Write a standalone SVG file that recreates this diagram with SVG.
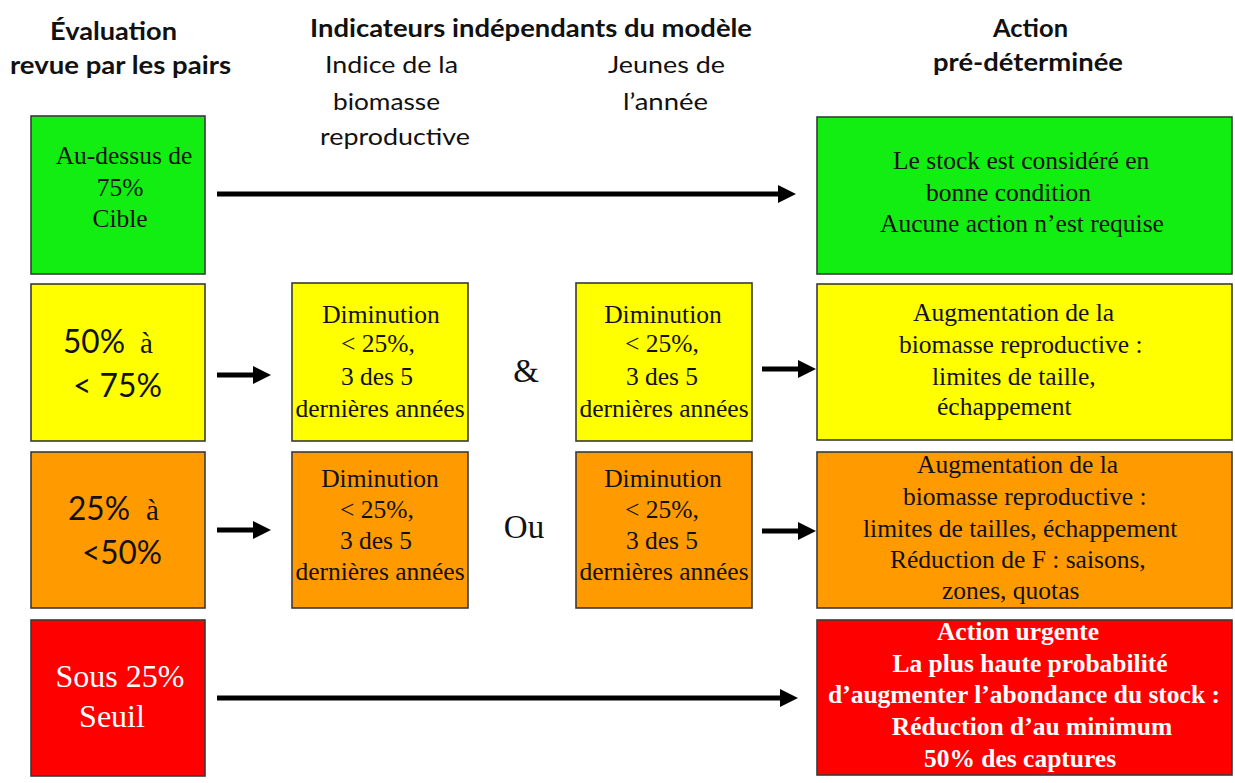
<svg xmlns="http://www.w3.org/2000/svg" width="1235" height="783" viewBox="0 0 1235 783">
  <style>
    .box { stroke: #3a3a3a; stroke-width: 1.6; }
    .green { fill: #12ee12; }
    .yellow { fill: #ffff00; }
    .orange { fill: #ff9a00; }
    .red { fill: #ff0000; }
    .hdr { font-family: Lato, "Open Sans", "Liberation Sans", sans-serif; font-size: 24px; fill: #111; }
    .hdr-b { font-weight: bold; }
    .serif { font-family: "Liberation Serif", "Times New Roman", serif; font-size: 25.5px; fill: #111; }
    .pct { font-family: Lato, "Open Sans", "Liberation Sans", sans-serif; font-size: 33px; fill: #111; }
    .big { font-size: 33px; }
    .agrave { font-size: 29px; }
    .large { font-size: 32px; }
    .white { fill: #fff; }
    .bold { font-weight: bold; }
    .mid { text-anchor: middle; }
    .conn { stroke: #000; stroke-width: 5; fill: none; }
  </style>
  <defs>
    <marker id="arrowhead" markerUnits="userSpaceOnUse" markerWidth="18" markerHeight="18" refX="0" refY="9" orient="auto">
      <path d="M0,0 L18,9 L0,18 Z" fill="#000"/>
    </marker>
  </defs>

  <rect width="1235" height="783" fill="#fff"/>

  <!-- column headers -->
  <g id="headers">
    <text class="hdr hdr-b mid" x="113.5" y="40" textLength="127" lengthAdjust="spacingAndGlyphs">Évaluation</text>
    <text class="hdr hdr-b mid" x="120.5" y="74" textLength="221" lengthAdjust="spacingAndGlyphs">revue par les pairs</text>
    <text class="hdr hdr-b" x="310" y="37" textLength="442" lengthAdjust="spacingAndGlyphs">Indicateurs indépendants du modèle</text>
    <text class="hdr" x="325" y="73" textLength="133" lengthAdjust="spacingAndGlyphs">Indice de la</text>
    <text class="hdr" x="333" y="110" textLength="107" lengthAdjust="spacingAndGlyphs">biomasse</text>
    <text class="hdr" x="320" y="145" textLength="150" lengthAdjust="spacingAndGlyphs">reproductive</text>
    <text class="hdr" x="608" y="73" textLength="117" lengthAdjust="spacingAndGlyphs">Jeunes de</text>
    <text class="hdr" x="623" y="110" textLength="85" lengthAdjust="spacingAndGlyphs">l’année</text>
    <text class="hdr hdr-b" x="993" y="37" textLength="75" lengthAdjust="spacingAndGlyphs">Action</text>
    <text class="hdr hdr-b" x="933" y="71" textLength="190" lengthAdjust="spacingAndGlyphs">pré-déterminée</text>
  </g>

  <!-- connectors -->
  <g id="connectors">
    <line class="conn" x1="217" y1="194" x2="778" y2="194" marker-end="url(#arrowhead)"/>
    <line class="conn" x1="217" y1="375" x2="253" y2="375" marker-end="url(#arrowhead)"/>
    <line class="conn" x1="762" y1="369" x2="798" y2="369" marker-end="url(#arrowhead)"/>
    <line class="conn" x1="217" y1="530" x2="253" y2="530" marker-end="url(#arrowhead)"/>
    <line class="conn" x1="762" y1="531" x2="798" y2="531" marker-end="url(#arrowhead)"/>
    <line class="conn" x1="217" y1="698" x2="780" y2="698" marker-end="url(#arrowhead)"/>
  </g>

  <!-- row 1: above 75% -->
  <g id="eval-target">
    <rect class="box green" x="31" y="116" width="174" height="158"/>
    <text class="serif mid" x="124" y="164">Au-dessus de</text>
    <text class="serif mid" x="120" y="196">75%</text>
    <text class="serif mid" x="120" y="227">Cible</text>
  </g>
  <g id="action-good">
    <rect class="box green" x="817" y="117" width="415" height="157"/>
    <text class="serif" x="893" y="169">Le stock est considéré en</text>
    <text class="serif" x="926" y="201">bonne condition</text>
    <text class="serif" x="880" y="232">Aucune action n’est requise</text>
  </g>

  <!-- row 2: 50% to 75% -->
  <g id="eval-50-75">
    <rect class="box yellow" x="31" y="284" width="174" height="157"/>
    <text class="pct" x="63" y="353" textLength="62" lengthAdjust="spacingAndGlyphs">50%</text>
    <text class="serif agrave" x="140" y="353">à</text>
    <text class="pct" x="73" y="397" textLength="89" lengthAdjust="spacingAndGlyphs">&lt; 75%</text>
  </g>
  <g id="sbi-yellow">
    <rect class="box yellow" x="292" y="283" width="176" height="158"/>
    <text class="serif mid" x="381" y="323">Diminution</text>
    <text class="serif mid" x="378" y="352">&lt; 25%,</text>
    <text class="serif mid" x="377" y="385">3 des 5</text>
    <text class="serif mid" x="380" y="417">dernières années</text>
  </g>
  <text id="and-sign" class="serif big mid" x="526" y="382">&amp;</text>
  <g id="yoy-yellow">
    <rect class="box yellow" x="576" y="283" width="176" height="158"/>
    <text class="serif mid" x="663" y="323">Diminution</text>
    <text class="serif mid" x="662" y="352">&lt; 25%,</text>
    <text class="serif mid" x="662" y="385">3 des 5</text>
    <text class="serif mid" x="664" y="417">dernières années</text>
  </g>
  <g id="action-yellow">
    <rect class="box yellow" x="817" y="284" width="415" height="156"/>
    <text class="serif" x="913" y="321">Augmentation de la</text>
    <text class="serif" x="899" y="353">biomasse reproductive :</text>
    <text class="serif" x="932" y="385">limites de taille,</text>
    <text class="serif" x="937" y="415">échappement</text>
  </g>

  <!-- row 3: 25% to 50% -->
  <g id="eval-25-50">
    <rect class="box orange" x="31" y="452" width="174" height="156"/>
    <text class="pct" x="68" y="520" textLength="62" lengthAdjust="spacingAndGlyphs">25%</text>
    <text class="serif agrave" x="146" y="520">à</text>
    <text class="pct" x="82" y="564" textLength="80" lengthAdjust="spacingAndGlyphs">&lt;50%</text>
  </g>
  <g id="sbi-orange">
    <rect class="box orange" x="292" y="452" width="176" height="156"/>
    <text class="serif mid" x="380" y="487">Diminution</text>
    <text class="serif mid" x="377" y="518">&lt; 25%,</text>
    <text class="serif mid" x="376" y="549">3 des 5</text>
    <text class="serif mid" x="380" y="580">dernières années</text>
  </g>
  <text id="or-word" class="serif big mid" x="524" y="538">Ou</text>
  <g id="yoy-orange">
    <rect class="box orange" x="576" y="452" width="176" height="156"/>
    <text class="serif mid" x="663" y="487">Diminution</text>
    <text class="serif mid" x="662" y="518">&lt; 25%,</text>
    <text class="serif mid" x="662" y="549">3 des 5</text>
    <text class="serif mid" x="664" y="580">dernières années</text>
  </g>
  <g id="action-orange">
    <rect class="box orange" x="817" y="452" width="415" height="156"/>
    <text class="serif" x="917" y="473">Augmentation de la</text>
    <text class="serif" x="903" y="505">biomasse reproductive :</text>
    <text class="serif" x="863" y="537">limites de tailles, échappement</text>
    <text class="serif" x="890" y="568">Réduction de F : saisons,</text>
    <text class="serif" x="942" y="599">zones, quotas</text>
  </g>

  <!-- row 4: below 25% -->
  <g id="eval-limit">
    <rect class="box red" x="31" y="620" width="174" height="156"/>
    <text class="serif large white mid" x="120" y="687">Sous 25%</text>
    <text class="serif large white mid" x="112" y="727">Seuil</text>
  </g>
  <g id="action-urgent">
    <rect class="box red" x="817" y="620" width="415" height="155"/>
    <text class="serif white bold mid" x="1018" y="640">Action urgente</text>
    <text class="serif white bold mid" x="1030" y="672">La plus haute probabilité</text>
    <text class="serif white bold mid" x="1024" y="703">d’augmenter l’abondance du stock :</text>
    <text class="serif white bold mid" x="1032" y="735">Réduction d’au minimum</text>
    <text class="serif white bold mid" x="1020" y="767">50% des captures</text>
  </g>
</svg>
